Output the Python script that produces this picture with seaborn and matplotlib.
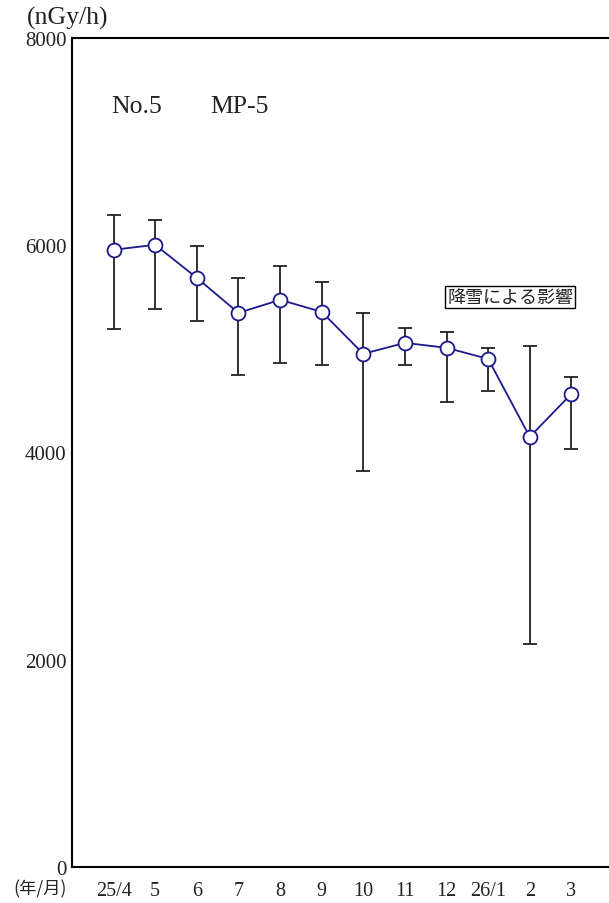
import matplotlib
matplotlib.use("Agg")
import matplotlib.pyplot as plt
import seaborn as sns
import pandas as pd

# ===== データ =====
months = ["25/4", "5", "6", "7", "8", "9", "10", "11", "12", "26/1", "2", "3"]
mean_vals = [5956, 6004, 5685, 5347, 5473, 5357, 4952, 5058, 5010, 4903, 4151, 4566]
max_vals = [6293, 6245, 5994, 5685, 5801, 5647, 5347, 5203, 5164, 5010, 5029, 4730]
min_vals = [5193, 5386, 5270, 4749, 4865, 4846, 3822, 4846, 4488, 4595, 2152, 4035]
y_ticks = [0, 2000, 4000, 6000, 8000]

df = pd.DataFrame({"x": range(1, len(months) + 1), "mean": mean_vals,
                   "max": max_vals, "min": min_vals})

sns.set_theme(style="white")
plt.rcParams["font.family"] = ["Liberation Serif", "Noto Sans CJK JP"]

fig = plt.figure(figsize=(6.09, 9.04), dpi=100)
ax = fig.add_axes([0.1182, 0.0398, 0.8918, 0.9171])

# 誤差棒 (最大/最小)
ax.errorbar(df["x"], df["mean"],
            yerr=[df["mean"] - df["min"], df["max"] - df["mean"]],
            fmt="none", ecolor="#222222", elinewidth=1.3, capsize=5, capthick=1.3, zorder=2)
sns.lineplot(data=df, x="x", y="mean", ax=ax, color="#1a1a8c", linewidth=1.3,
             marker="o", markersize=10, markerfacecolor="white",
             markeredgecolor="#1a1a8c", markeredgewidth=1.3, zorder=3)

ax.set_xlim(0, 13.05)
ax.set_ylim(0, 8000)
ax.set_xticks(df["x"])
ax.set_xticklabels(months)
ax.set_yticks(y_ticks)
ax.set_yticklabels([str(v) for v in y_ticks])
ax.set_xlabel("")
ax.set_ylabel("")
ax.tick_params(axis="both", direction="in", length=5, width=1, color="black",
               labelsize=15, labelcolor="#222222")
ax.tick_params(axis="x", pad=10, labelsize=14.5)
ax.tick_params(axis="y", pad=4)
for s in ["left", "bottom", "top"]:
    ax.spines[s].set_color("black")
    ax.spines[s].set_linewidth(1.5)
ax.spines["right"].set_visible(False)

fig.text(0.044, 0.98, "(nGy/h)", fontsize=18.5, va="center", ha="left", color="#222222")
fig.text(0.022, 0.0165, "(年/月)", fontsize=12.5, va="center", ha="left", color="#222222",
         family=["Noto Sans CJK JP"])
fig.text(0.183, 0.882, "No.5", fontsize=18.5, va="center", ha="left", color="#222222")
fig.text(0.346, 0.882, "MP-5", fontsize=18.5, va="center", ha="left", color="#222222")
fig.text(0.8375, 0.670, "降雪による影響", fontsize=13, va="center", ha="center",
         family=["Noto Sans CJK JP"], color="#222222",
         bbox=dict(boxstyle="square,pad=0.12", facecolor="white", edgecolor="black", linewidth=1))

fig.savefig("out.png", dpi=100)
